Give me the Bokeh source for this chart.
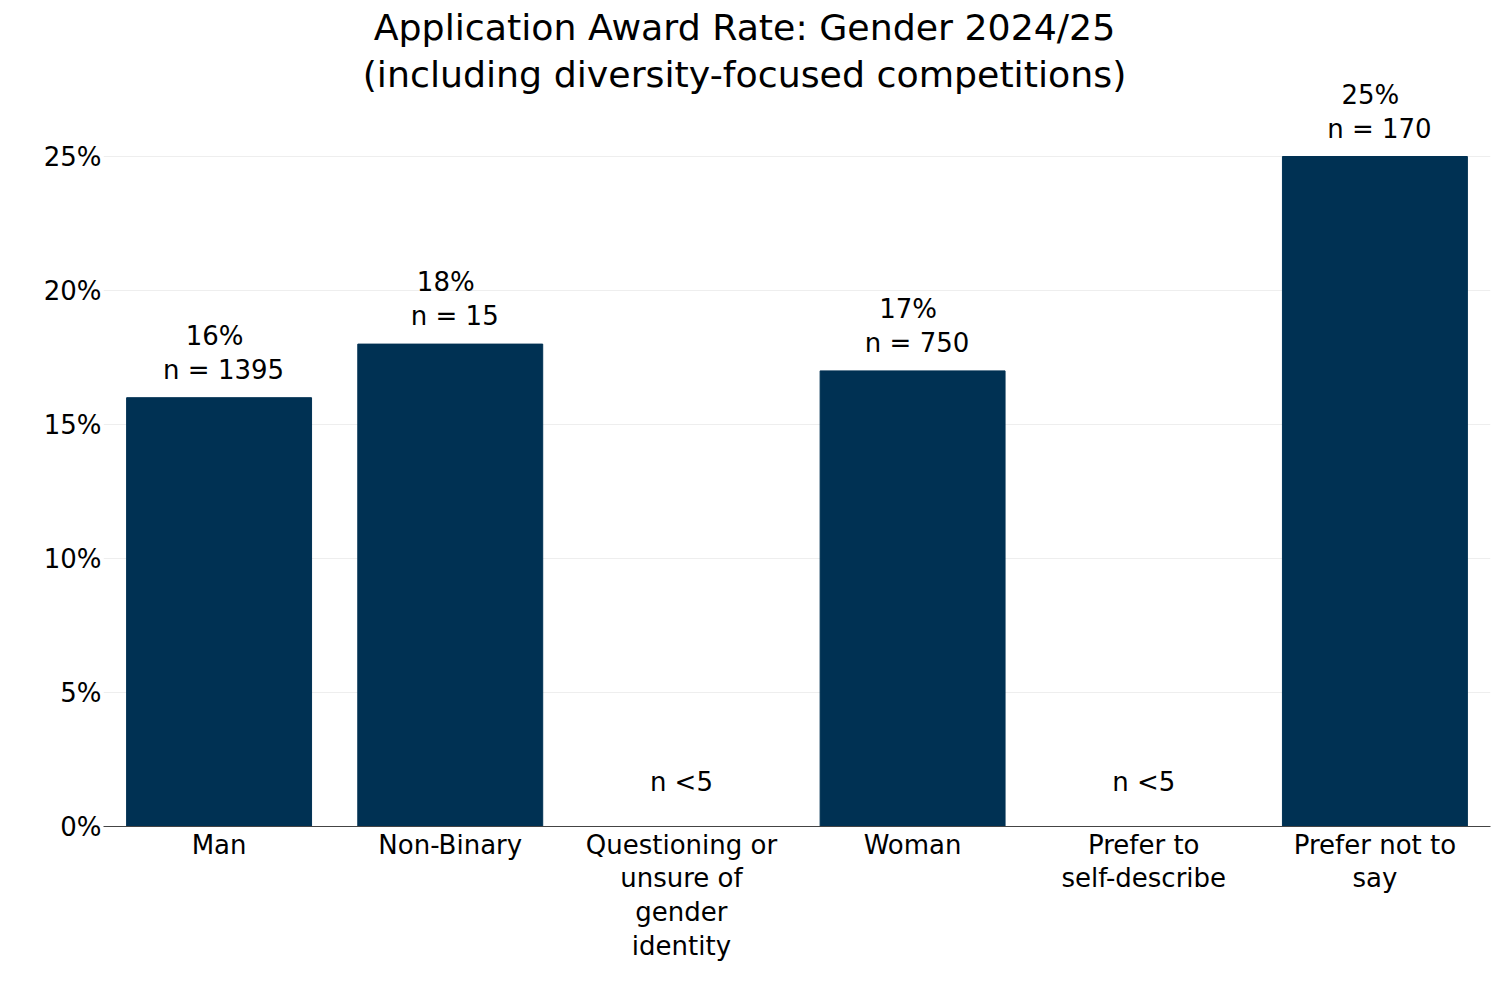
from bokeh.plotting import figure
from bokeh.models import (ColumnDataSource, FactorRange, Range1d, FixedTicker,
                          PrintfTickFormatter, LabelSet, Label)
from bokeh.core.properties import value
from bokeh.embed import file_html
from bokeh.resources import INLINE

categories = ["Man", "Non-Binary", "Questioning or unsure of gender identity",
              "Woman", "Prefer to self-describe", "Prefer not to say"]
rates = [16, 18, 0, 17, 0, 25]
counts = ["1395", "15", "<5", "750", "<5", "170"]
tick_labels = ["Man", "Non-Binary", "Questioning or\nunsure of\ngender\nidentity",
               "Woman", "Prefer to\nself-describe", "Prefer not to\nsay"]
y_ticks = [0, 5, 10, 15, 20, 25]
title_lines = ["Application Award Rate: Gender 2024/25",
               "(including diversity-focused competitions)"]

FONT = "DejaVu Sans"
BAR = "#003153"

# frame: 826 px tall, of which the lower 670 px hold 0..25 %
Y_MAX = 25
y_end = Y_MAX * 826 / 670

p = figure(x_range=FactorRange(*tick_labels, range_padding=0),
           y_range=Range1d(0, y_end),
           width=1498, height=990, output_backend="svg", toolbar_location=None,
           min_border_left=103, min_border_right=8, min_border_top=0,
           min_border_bottom=164)
p.outline_line_color = None
p.background_fill_color = "white"
p.border_fill_color = "white"

src = ColumnDataSource(dict(cat=tick_labels, rate=rates))
p.vbar(x="cat", top="rate", width=0.8, source=src, fill_color=BAR, line_color=BAR)

# axes
p.xgrid.grid_line_color = None
p.ygrid.grid_line_color = "#eeeeee"
p.ygrid.grid_line_width = 1
p.yaxis.ticker = FixedTicker(ticks=y_ticks)
p.yaxis.formatter = PrintfTickFormatter(format="%d%%")
p.yaxis.axis_line_color = None
p.yaxis.major_tick_line_color = None
p.yaxis.minor_tick_line_color = None
p.yaxis.major_tick_out = 0
p.yaxis.major_tick_in = 0
p.yaxis.major_label_standoff = 2
p.yaxis.major_label_text_font = FONT
p.yaxis.major_label_text_font_size = "26px"
p.yaxis.major_label_text_color = "black"

p.xaxis.axis_line_color = "#444444"
p.xaxis.axis_line_width = 1
p.xaxis.major_tick_line_color = None
p.xaxis.minor_tick_line_color = None
p.xaxis.major_tick_out = 0
p.xaxis.major_tick_in = 0
p.xaxis.major_label_standoff = 3
p.xaxis.major_label_text_font = FONT
p.xaxis.major_label_text_font_size = "26px"
p.xaxis.major_label_text_color = "black"
p.xaxis.major_label_text_line_height = 1.13

# value labels
have = [i for i, c in enumerate(counts) if not c.startswith("<")]
small = [i for i, c in enumerate(counts) if c.startswith("<")]
pct_src = ColumnDataSource(dict(cat=[tick_labels[i] for i in have],
                                rate=[rates[i] for i in have],
                                txt=[f"{rates[i]}%" for i in have]))
n_src = ColumnDataSource(dict(cat=[tick_labels[i] for i in have],
                              rate=[rates[i] for i in have],
                              txt=[f"n = {counts[i]}" for i in have]))
s_src = ColumnDataSource(dict(cat=[tick_labels[i] for i in small],
                              rate=[rates[i] for i in small],
                              txt=[f"n {counts[i]}" for i in small]))
common = dict(text_font=value(FONT), text_font_size=value("26px"),
              text_color="black", text_align="center", text_baseline="middle")
p.add_layout(LabelSet(x="cat", y="rate", text="txt", source=pct_src,
                      x_offset=-4.5, y_offset=62, **common))
p.add_layout(LabelSet(x="cat", y="rate", text="txt", source=n_src,
                      x_offset=4.5, y_offset=28, **common))
p.add_layout(LabelSet(x="cat", y="rate", text="txt", source=s_src,
                      y_offset=45, **common))

# title (screen units relative to the frame's bottom-left corner)
for txt, yy in zip(title_lines, [799, 752]):
    p.add_layout(Label(x=641, y=yy, x_units="screen", y_units="screen", text=txt,
                       text_font=FONT, text_font_size="36.3px", text_color="black",
                       text_align="center", text_baseline="middle"))

open("out.html", "w").write(file_html(p, INLINE))
